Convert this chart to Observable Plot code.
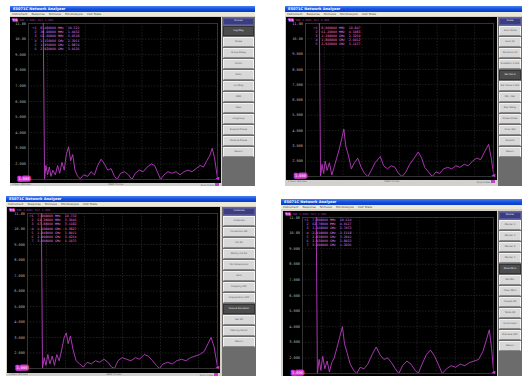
<!DOCTYPE html>
<html><head><meta charset="utf-8">
<script src="https://cdn.jsdelivr.net/npm/d3@7"></script>
<script src="https://cdn.jsdelivr.net/npm/@observablehq/plot@0.6"></script>
<style>
html,body{margin:0;padding:0;background:#fff;}
#root{position:relative;width:522px;height:376px;overflow:hidden;font-family:"DejaVu Sans",sans-serif;}
.win{position:absolute;background:#d4d0c8;overflow:hidden;}
.tbar{position:absolute;left:0;right:0;top:0;height:6px;background:linear-gradient(#4a80f0,#1450e0 50%,#0a3cc0);color:#fff;font-size:3.6px;line-height:6px;padding-left:3px;font-weight:bold;white-space:nowrap;}
.mbar{position:absolute;left:0;right:0;height:4px;background:#ece9d8;color:#444;font-size:2.8px;line-height:4px;white-space:nowrap;padding-left:2px;}
.mbar span{margin-right:4px;}
.plotbox{position:absolute;background:#000;}
.plotbox svg{display:block;}
.btncol{position:absolute;background:#6c6c6c;}
.btn{position:absolute;left:1px;right:1px;background:#d8d8d8;border:0.5px solid #f4f4f4;border-bottom-color:#888;color:#555;font-size:2.4px;line-height:2.7px;text-align:center;display:flex;align-items:center;justify-content:center;overflow:hidden;box-sizing:border-box;word-break:break-word;}
.btn.hd{background:#3c3c80;color:#eee;border-color:#55559a;}
.btn.hi{background:#4c4c4c;color:#eee;border-color:#333;}
.sbar{position:absolute;background:#d0d0d0;color:#666;font-size:2.4px;line-height:3px;white-space:nowrap;display:flex;justify-content:space-between;padding:0 2px;box-sizing:border-box;overflow:hidden;}
.sbar i{display:inline-block;width:4px;height:2.5px;background:#c040c8;}
</style>
</head><body><div id="root"></div>
<script>
// ---- axis / labels ----
const yTickValues = [2, 3, 4, 5, 6, 7, 8, 9, 10, 11];
const yTickLabels = ["2.000", "3.000", "4.000", "5.000", "6.000", "7.000", "8.000", "9.000", "10.00", "11.00"];
const xGridValues = [0, 10, 20, 30, 40, 50, 60, 70, 80, 90, 100];
const refLabel = "1.000";
const channelTitle = "SWR 1.000/ Ref 1.000";
const windowTitle = "E5071C Network Analyzer";
const menuItems = ["Instrument", "Response", "Stimulus", "Mkr/Analysis", "Instr State"];
const statusStart = "1  Start 300 kHz";
const statusMid = "IFBW 70 kHz";
const statusStop = "Stop 3 GHz";

// ---- traces (x = % of span, y = SWR) ----
const freq1 = [0, 7.6, 8.5, 9.2, 10.1, 11.0, 11.9, 12.9, 14.2, 15.4, 16.5, 17.7, 18.9, 20.0, 21.2, 22.3, 23.4, 24.6, 26.0, 27.4, 29.2, 31.3, 33.1, 34.9, 36.6, 38.4, 40.2, 41.9, 43.7, 45.5, 46.9, 48.7, 50.8, 52.9, 54.7, 56.5, 58.6, 60.7, 62.8, 65.0, 66.7, 68.5, 69.9, 71.7, 73.8, 75.9, 78.1, 80.2, 82.3, 84.4, 86.5, 88.7, 90.8, 92.6, 94.3, 95.8, 97.2, 98.4, 100];
const swr1  = [14, 14, 1.0, 1.9, 1.3, 1.8, 1.2, 1.6, 1.3, 1.9, 1.4, 2.1, 1.6, 2.6, 3.1, 2.2, 2.6, 1.6, 1.2, 1.05, 1.3, 1.2, 1.5, 1.3, 1.9, 2.3, 2.0, 1.6, 1.7, 1.2, 1.0, 1.4, 1.5, 1.3, 1.0, 1.4, 1.6, 1.5, 1.8, 2.0, 1.9, 1.4, 1.0, 1.3, 1.5, 1.4, 1.5, 1.3, 1.5, 1.6, 1.5, 1.7, 1.9, 1.8, 2.2, 2.5, 3.0, 2.4, 1.1];

const freq2 = [0, 7.2, 8.0, 8.8, 9.6, 10.5, 11.5, 12.7, 14.0, 15.2, 16.6, 18.0, 19.3, 20.4, 21.4, 22.8, 24.4, 26.0, 27.8, 29.6, 31.4, 33.2, 35.0, 37.0, 39.8, 41.6, 43.6, 45.6, 47.6, 49.4, 51.4, 53.4, 55.4, 57.8, 60.0, 61.8, 63.4, 65.4, 67.4, 69.4, 71.4, 73.4, 75.6, 77.8, 80.0, 82.2, 84.4, 86.6, 88.8, 91.0, 93.2, 95.2, 97.4, 98.8, 100];
const swr2  = [14, 14, 1.0, 1.8, 1.2, 2.0, 1.4, 1.9, 1.1, 1.6, 2.2, 2.8, 3.5, 4.1, 3.0, 2.4, 1.5, 1.9, 2.2, 1.6, 1.2, 1.0, 1.4, 1.9, 2.3, 1.7, 1.5, 1.7, 1.6, 1.2, 1.0, 1.3, 1.8, 2.2, 2.6, 2.2, 1.6, 1.3, 1.0, 1.3, 1.2, 1.5, 1.6, 1.5, 1.7, 1.6, 1.8, 1.7, 2.0, 2.2, 2.1, 2.6, 3.1, 2.2, 1.2];

const freq3 = [0, 7.1, 7.9, 8.8, 9.7, 10.7, 11.8, 13.0, 14.2, 15.4, 16.7, 18.0, 19.3, 20.4, 21.4, 22.6, 24.0, 25.6, 27.4, 29.4, 31.4, 33.6, 35.8, 38.0, 40.2, 42.4, 44.2, 45.8, 47.6, 49.8, 52.0, 54.4, 56.8, 59.0, 61.4, 63.6, 65.8, 67.8, 69.4, 71.4, 73.8, 76.2, 78.6, 81.0, 83.4, 85.8, 88.2, 90.6, 93.0, 95.0, 96.6, 98.2, 100];
const swr3  = [14, 14, 1.0, 1.7, 1.2, 1.9, 1.3, 1.8, 1.2, 1.9, 1.5, 2.2, 3.0, 3.3, 2.6, 3.1, 2.2, 1.5, 1.3, 1.1, 1.4, 1.3, 1.5, 1.4, 1.6, 1.4, 1.1, 1.0, 1.5, 1.7, 1.6, 1.5, 1.7, 1.6, 1.9, 1.8, 1.5, 1.2, 1.0, 1.3, 1.4, 1.3, 1.5, 1.6, 1.5, 1.7, 1.8, 1.9, 2.1, 2.6, 3.0, 2.4, 1.1];

const freq4 = [0, 7.0, 7.8, 8.7, 9.6, 10.6, 11.7, 12.9, 14.1, 15.3, 16.6, 17.9, 19.4, 20.9, 22.0, 23.4, 25.0, 26.8, 28.4, 30.2, 32.2, 34.2, 36.4, 38.6, 40.6, 42.6, 44.6, 46.6, 48.6, 50.4, 52.4, 54.6, 56.8, 59.0, 60.6, 62.6, 64.8, 67.0, 69.2, 71.4, 73.2, 75.4, 77.8, 80.2, 82.6, 85.0, 87.4, 89.8, 92.2, 94.4, 96.4, 97.8, 99.0, 100];
const swr4  = [14, 14, 1.0, 1.9, 1.2, 2.1, 1.3, 1.8, 1.1, 1.7, 2.0, 2.6, 3.3, 4.0, 2.9, 2.3, 1.6, 1.2, 1.0, 1.4, 1.3, 1.6, 2.2, 2.7, 2.2, 1.9, 2.0, 1.7, 1.3, 1.0, 1.5, 1.8, 1.6, 1.2, 1.0, 1.6, 2.2, 2.5, 2.1, 1.5, 1.0, 1.3, 1.5, 1.4, 1.6, 1.5, 1.7, 1.8, 1.9, 2.4, 3.2, 3.8, 2.6, 1.2];

// ---- marker tables ----
const markers1 = [">1  8.400000 MHz  10.521", " 2  30.00000 MHz  1.0432", " 3  63.60000 MHz  3.0518", " 4  1.150000 GHz  2.3011", " 5  1.950000 GHz  1.9874", " 6  2.920000 GHz  3.0126"];
const markers2 = [">1  8.000000 MHz  10.847", " 2  61.20000 MHz  4.1083", " 3  1.190000 GHz  2.3264", " 4  1.800000 GHz  2.6012", " 5  2.920000 GHz  3.1157"];
const markers3 = [">1  7.900000 MHz  10.732", " 2  61.20000 MHz  3.3046", " 3  67.80000 MHz  3.1182", " 4  1.100000 GHz  1.3827", " 5  1.840000 GHz  1.9011", " 6  2.900000 GHz  3.0264", " 7  3.000000 GHz  1.1075"];
const markers4 = [">1  7.800000 MHz  10.614", " 2  62.70000 MHz  4.0127", " 3  1.160000 GHz  2.7053", " 4  2.010000 GHz  2.5118", " 5  2.830000 GHz  3.2041", " 6  2.930000 GHz  3.8022", " 7  3.000000 GHz  1.2036"];

// ---- softkey labels ----
const keys1 = ["Format", "Log Mag", "Phase", "Group Delay", "Smith", "Polar", "Lin Mag", "SWR", "Real", "Imaginary", "Expand Phase", "Positive Phase", "Return"];
const keys2 = ["Scale", "Auto Scale", "Auto All", "Divisions 10", "Scale/Div 1.000", "Ref Pos 0", "Ref Value 1.000", "Mkr→Ref", "Elec Delay", "Phase Offset", "Chan Def", "Smooth", "Return"];
const keys3 = ["Calibrate", "Calibrate", "Correction ON", "Cal Kit", "Modify Cal Kit", "Port Extensions", "Ecal", "Property OFF", "Interpolation OFF", "Fixture Simulator", "Set Z0", "Velocity Factor", "Return"];
const keys4 = ["Marker", "Marker 1", "Marker 2", "Marker 3", "Marker 4", "More Mkrs", "Ref Mkr", "Clear Mkrs", "Couple ON", "Table ON", "Annot Opts", "Discrete OFF", "Return"];

// ---- layout (positions only) ----
const panels = [
  {freq: freq1, swr: swr1, markers: markers1, keys: keys1, hi: 1,
   win: [10, 6, 245, 180], plot: [0, 11, 211, 166], m: [18, 4, 6, 4], btn: [212, 11, 33], menuTop: 6, status: [0, 177, 211, 3], tx: 4, ty: 2.5},
  {freq: freq2, swr: swr2, markers: markers2, keys: keys2, hi: 5,
   win: [285, 6, 237, 180], plot: [1, 11, 211, 163], m: [19, 4, 6, 4], btn: [213, 11, 24], menuTop: 6, status: [1, 174, 211, 4], tx: 8, ty: 2},
  {freq: freq3, swr: swr3, markers: markers3, keys: keys3, hi: 9,
   win: [6, 196, 250, 180], plot: [1, 11, 213, 166], m: [20, 3, 6, 5], btn: [216, 11, 34], menuTop: 6, status: [1, 177, 213, 3], tx: 2, ty: 0.5},
  {freq: freq4, swr: swr4, markers: markers4, keys: keys4, hi: 5,
   win: [281, 199, 241, 177], plot: [2, 12, 214, 165], m: [19, 4, 6, 3], btn: [217, 12, 24], menuTop: 6, status: null, tx: 2, ty: 0.5}
];

const MAG = "#b93cc2";
const root = document.getElementById("root");

function analyzerPlot(p) {
  const data = p.freq.map((f, i) => ({f, s: p.swr[i]}));
  const [w, h] = [p.plot[2], p.plot[3]];
  return Plot.plot({
    width: w, height: h,
    marginLeft: p.m[0], marginRight: p.m[1], marginTop: p.m[2], marginBottom: p.m[3],
    style: {background: "#000", color: "#bbb", fontFamily: "DejaVu Sans Mono", fontSize: "4px", overflow: "visible"},
    x: {domain: [0, 100], axis: null},
    y: {domain: [1, 11], axis: null},
    marks: [
      Plot.gridX(xGridValues, {stroke: "#333", strokeOpacity: 1, strokeDasharray: "1.5,1.5", strokeWidth: 0.6}),
      Plot.gridY([1, ...yTickValues], {stroke: "#333", strokeOpacity: 1, strokeDasharray: "1.5,1.5", strokeWidth: 0.6}),
      Plot.frame({stroke: "#444", strokeWidth: 0.7}),
      Plot.axisY(yTickValues, {tickSize: 0, tickPadding: 2.5, fill: "#b8b8b8", fontSize: 3.6, label: null,
        tickFormat: d => yTickLabels[yTickValues.indexOf(d)]}),
      Plot.line(data, {x: "f", y: "s", stroke: MAG, strokeWidth: 1, strokeOpacity: 0.9, clip: true}),
      Plot.text([p.markers.join("\n")], {frameAnchor: "top-left", textAnchor: "start", lineAnchor: "top",
        dx: p.tx, dy: p.ty, fill: "#ec7cec", fontSize: 3.25, lineHeight: 1.3, fontFamily: "DejaVu Sans Mono"}),
      Plot.text(["Tr1"], {frameAnchor: "top-left", textAnchor: "start", dx: -p.m[0] + 2, dy: -4.4,
        fill: "#fff", stroke: "#d03ad0", strokeWidth: 1.6, fontSize: 2.8}),
      Plot.text([channelTitle], {frameAnchor: "top-left", textAnchor: "start", dx: -p.m[0] + 9, dy: -4.4,
        fill: "#a83cb0", fontSize: 2.8}),
      Plot.text([refLabel], {frameAnchor: "bottom-left", dx: -p.m[0] / 2 - 1, fill: "#fff",
        stroke: "#d03ad0", strokeWidth: 3.5, fontSize: 3.6}),
      Plot.text(["◀"], {frameAnchor: "bottom-right", dx: 1.5, fill: "#d03ad0", fontSize: 6})
    ]
  });
}

for (const p of panels) {
  const win = document.createElement("div");
  win.className = "win";
  Object.assign(win.style, {left: p.win[0] + "px", top: p.win[1] + "px", width: p.win[2] + "px", height: p.win[3] + "px"});
  const tb = document.createElement("div"); tb.className = "tbar"; tb.textContent = windowTitle; win.appendChild(tb);
  const mb = document.createElement("div"); mb.className = "mbar"; mb.style.top = p.menuTop + "px";
  mb.innerHTML = menuItems.map(s => `<span>${s}</span>`).join(""); win.appendChild(mb);
  const pb = document.createElement("div"); pb.className = "plotbox";
  Object.assign(pb.style, {left: p.plot[0] + "px", top: p.plot[1] + "px", width: p.plot[2] + "px", height: p.plot[3] + "px"});
  pb.appendChild(analyzerPlot(p)); win.appendChild(pb);
  const bc = document.createElement("div"); bc.className = "btncol";
  Object.assign(bc.style, {left: p.btn[0] + "px", top: p.btn[1] + "px", width: p.btn[2] + "px", bottom: "0px"});
  p.keys.forEach((k, i) => {
    const b = document.createElement("div");
    b.className = "btn" + (i === 0 ? " hd" : "") + (i === p.hi ? " hi" : "");
    const top = i === 0 ? 1 : 9 + (i - 1) * 11;
    Object.assign(b.style, {top: top + "px", height: (i === 0 ? 7 : 10) + "px"});
    b.textContent = k;
    bc.appendChild(b);
  });
  win.appendChild(bc);
  if (p.status) {
    const sb = document.createElement("div"); sb.className = "sbar";
    Object.assign(sb.style, {left: p.status[0] + "px", top: p.status[1] + "px", width: p.status[2] + "px", height: p.status[3] + "px"});
    sb.innerHTML = `<span>${statusStart}</span><span>${statusMid}</span><span>${statusStop} <i></i></span>`;
    win.appendChild(sb);
  }
  root.appendChild(win);
}
</script>
</body></html>
